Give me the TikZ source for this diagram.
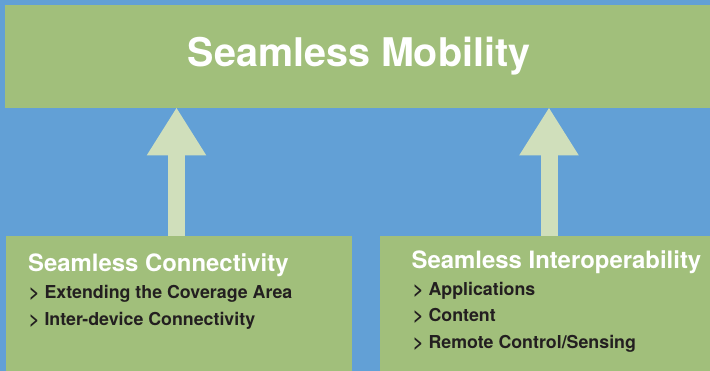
\documentclass[tikz,border=0pt]{standalone}
\usepackage{fontspec}
\setmainfont{TeX Gyre Heros}
\usetikzlibrary{arrows.meta}
\definecolor{bgblue}{HTML}{62A0D6}
\definecolor{boxgreen}{HTML}{A1BF7B}
\definecolor{arrowgreen}{HTML}{D0DFBB}
\definecolor{darktext}{HTML}{231F20}
\tikzset{
  box/.style={fill=boxgreen, draw=none, inner sep=0pt, anchor=north west},
  maintitle/.style={text=white, font=\fontsize{39.5}{44}\selectfont\bfseries, inner sep=0pt, anchor=base},
  subtitle/.style={text=white, font=\fontsize{23.9}{28}\selectfont\bfseries, inner sep=0pt, anchor=base west},
  item/.style={text=darktext, font=\fontsize{17.8}{21}\selectfont\bfseries, inner sep=0pt, anchor=base west},
  bigarrow/.style={draw=arrowgreen, line width=17pt, -{Triangle[width=56pt,length=48pt,fill=arrowgreen]}, shorten >=-1pt}
}
\begin{document}
\begin{tikzpicture}[x=1pt,y=-1pt]
\useasboundingbox (0,0) rectangle (710,371);
\fill[bgblue] (0,0) rectangle (710,371);
\node[box, minimum width=710pt, minimum height=103pt] (top) at (5,5) {};
\node[box, minimum width=346pt, minimum height=140pt] (left) at (6,236) {};
\node[box, minimum width=335pt, minimum height=140pt] (right) at (380,236) {};
\node[maintitle] (t0) at (359,66.7) {Seamless Mobility};
\node[subtitle] (t1) at (28,271.7) {Seamless Connectivity};
\node[item] (t1a) at (29,299) {> Extending the Coverage Area};
\node[item] (t1b) at (29,326) {> Inter-device Connectivity};
\node[subtitle] (t2) at (411.5,268.3) {Seamless Interoperability};
\node[item] (t2a) at (413,296) {> Applications};
\node[item] (t2b) at (413,321.7) {> Content};
\node[item] (t2c) at (413,349) {> Remote Control/Sensing};
\coordinate (ax1) at (176.5,0);
\coordinate (ax2) at (549,0);
\draw[bigarrow] (left.north -| ax1) -- (top.south -| ax1);
\draw[bigarrow] (right.north -| ax2) -- (top.south -| ax2);
\end{tikzpicture}
\end{document}
